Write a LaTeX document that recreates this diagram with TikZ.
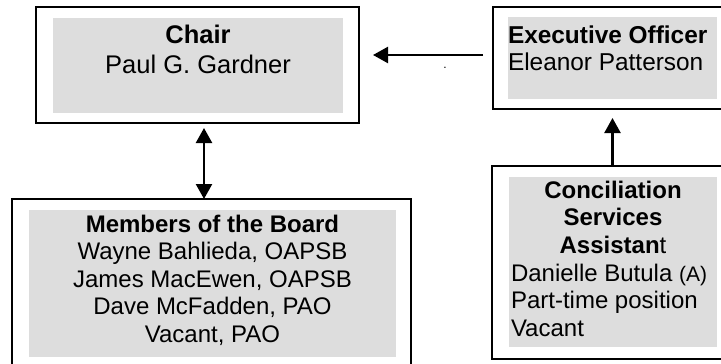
\documentclass[tikz,border=0pt]{standalone}
\usepackage{fontspec}
\setmainfont{Liberation Sans}
\usetikzlibrary{arrows.meta,positioning}
\definecolor{boxgray}{RGB}{221,221,221}

\begin{document}
\begin{tikzpicture}[x=1pt,y=-1pt,>={Triangle[length=15pt,width=16pt]},line width=2.3pt]
	\tikzstyle{frame} = [draw, rectangle, line width=2pt, outer sep=0pt, inner sep=0pt]
	\tikzstyle{shade} = [fill=boxgray, rectangle, inner sep=0pt, outer sep=0pt]
	\tikzstyle{txt} = [inner sep=0pt, outer sep=0pt, font=\fontsize{24}{27.5}\selectfont]

	\useasboundingbox (0,0) rectangle (721,364);

	\node [frame, line width=2.4pt, minimum width=323pt, minimum height=116pt] (chair) at (197.5,65) {};
	\node [shade, minimum width=290pt, minimum height=95pt, below right=11pt and 17pt of chair.north west] (chairshade) {};
	\node [txt, font=\fontsize{25.5}{30.5}\selectfont, align=center, below=6.6pt of chairshade.north] (chairtxt) {\textbf{Chair}\\Paul G. Gardner};

	\node [frame, minimum width=240pt, minimum height=102pt] (exec) at (613,58) {};
	\node [shade, minimum width=209pt, minimum height=82pt, below right=10pt and 15pt of exec.north west] (execshade) {};
	\node [txt, font=\fontsize{24.4}{27}\selectfont, align=left, below right=8.7pt and 0pt of execshade.north west] (exectxt) {\textbf{Executive Officer}\\Eleanor Patterson};

	\node [frame, minimum width=399pt, minimum height=173pt] (members) at (211.5,285.5) {};
	\node [shade, minimum width=367pt, minimum height=147pt, below right=11pt and 17pt of members.north west] (membersshade) {};
	\node [txt, align=center, below=4.7pt of membersshade.north] (memberstxt) {\textbf{Members of the Board}\\Wayne Bahlieda, OAPSB\\James MacEwen, OAPSB\\Dave McFadden, PAO\\Vacant, PAO};

	\node [frame, minimum width=241pt, minimum height=193pt] (conc) at (612.5,262.5) {};
	\node [shade, minimum width=208pt, minimum height=170pt, below right=11pt and 17pt of conc.north west] (concshade) {};
	\node [txt, align=center, below=3.7pt of concshade.north] (conctitle) {\textbf{Conciliation}\\\textbf{Services}\\\textbf{Assistan}t};
	\node [txt, align=left, below right=86.7pt and 2pt of concshade.north west] (concbody) {Danielle Butula {\fontsize{21}{27.5}\selectfont(A)}\\Part-time position\\Vacant};

	\node [inner sep=0pt, font=\fontsize{12}{12}\selectfont, anchor=base] (dot) at (445,68) {.};

	\draw [->, shorten <=10pt, shorten >=14pt] ([yshift=3pt]exec.west) -- ([yshift=3pt]exec.west -| chair.east);
	\draw [<->, shorten <=5pt] ([xshift=6.5pt]chair.south) -- ([xshift=6.5pt]chair.south |- members.north);
	\draw [->, shorten >=9pt] (conc.north) -- (conc.north |- exec.south);

\end{tikzpicture}
\end{document}
